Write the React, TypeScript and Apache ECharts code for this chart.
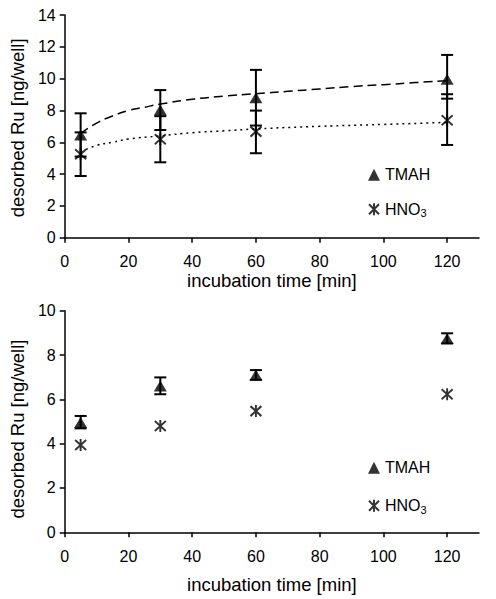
import React, { useEffect, useRef } from "react";
import * as echarts from "echarts";

// ---- Data ----
const times = [5, 30, 60, 120];

// Top panel
const topTMAH = [6.46, 8.03, 8.8, 9.96];
const topTMAHLow = [5.1, 6.77, 7.05, 8.74];
const topTMAHHigh = [7.82, 9.28, 10.55, 11.49];
const topHNO3 = [5.25, 6.19, 6.67, 7.38];
const topHNO3Low = [3.88, 4.74, 5.31, 5.83];
const topHNO3High = [6.62, 7.64, 7.99, 9.02];

// Trend lines
const trendTMAHx = [5, 10, 15, 20, 25, 30, 40, 50, 60, 70, 80, 90, 100, 110, 120];
const trendTMAHy = [6.55, 7.2, 7.65, 8.0, 8.2, 8.4, 8.7, 8.9, 9.05, 9.2, 9.35, 9.5, 9.62, 9.75, 9.87];
const trendHNO3x = [5, 10, 15, 20, 30, 40, 50, 60, 80, 100, 120];
const trendHNO3y = [5.4, 5.8, 6.0, 6.2, 6.4, 6.6, 6.72, 6.84, 7.0, 7.12, 7.25];

// Bottom panel
const botTMAH = [4.96, 6.6, 7.1, 8.75];
const botTMAHLow = [4.69, 6.23, 6.88, 8.52];
const botTMAHHigh = [5.25, 6.99, 7.32, 8.98];
const botHNO3 = [3.94, 4.8, 5.47, 6.23];

const xTicks = [0, 20, 40, 60, 80, 100, 120];
const seriesNames = ["TMAH", "HNO3"];
const xName = "incubation time [min]";
const yName = "desorbed Ru [ng/well]";

const FONT = "'Liberation Sans', Arial, sans-serif";
const ASTERISK = "path://M0,0L10,10M10,0L0,10M5,-1L5,11";

function errorBarSeries(name: string, gi: number, lows: number[], highs: number[]) {
  return {
    name,
    type: "custom",
    xAxisIndex: gi,
    yAxisIndex: gi,
    z: 1,
    encode: { x: 0, y: [1, 2] },
    data: times.map((t, i) => [t, lows[i], highs[i]]),
    renderItem: (params: any, api: any) => {
      const x = api.value(0);
      const lo = api.coord([x, api.value(1)]);
      const hi = api.coord([x, api.value(2)]);
      const hw = 6;
      const style = { stroke: "#000", lineWidth: 2 };
      return {
        type: "group",
        children: [
          { type: "line", shape: { x1: lo[0], y1: lo[1], x2: hi[0], y2: hi[1] }, style },
          { type: "line", shape: { x1: lo[0] - hw, y1: lo[1], x2: lo[0] + hw, y2: lo[1] }, style },
          { type: "line", shape: { x1: hi[0] - hw, y1: hi[1], x2: hi[0] + hw, y2: hi[1] }, style },
        ],
      };
    },
  };
}

export default function App() {
  const ref = useRef<HTMLDivElement>(null);
  useEffect(() => {
    if (!ref.current) return;
    const chart = echarts.init(ref.current, undefined, { renderer: "svg" });
    const axisCommon = {
      axisLine: { lineStyle: { color: "#000", width: 1.5 } },
      axisTick: { lineStyle: { color: "#000", width: 1.5 }, length: 5 },
      splitLine: { show: false },
    };
    const xAxis = (gi: number, gap: number) => ({
      type: "value",
      gridIndex: gi,
      min: 0,
      max: 130,
      interval: 20,
      name: xName,
      nameLocation: "middle",
      nameGap: gap,
      nameTextStyle: { color: "#000", fontSize: 18.5, fontFamily: FONT },
      ...axisCommon,
      axisTick: { ...axisCommon.axisTick, customValues: xTicks },
      axisLabel: { color: "#000", fontSize: 16, fontFamily: FONT, margin: 16, customValues: xTicks },
    });
    const yAxis = (gi: number, max: number, shift: number) => ({
      type: "value",
      gridIndex: gi,
      min: 0,
      max,
      interval: 2,
      name: yName,
      nameLocation: "middle",
      nameGap: 37,
      nameTextStyle: {
        color: "#000",
        fontSize: 18.5,
        fontFamily: FONT,
        padding: [0, shift, 0, 0],
      },
      ...axisCommon,
      axisLabel: { color: "#000", fontSize: 16, fontFamily: FONT, margin: 9 },
    });
    const legend = (top: number, gap: number) => ({
      orient: "vertical",
      left: 366.5,
      top,
      padding: 0,
      itemWidth: 12,
      itemHeight: 12,
      itemGap: gap,
      itemStyle: { borderWidth: 0 },
      data: [
        { name: "TMAH", icon: "triangle", itemStyle: { color: "#000" } },
        {
          name: "HNO3",
          icon: ASTERISK,
          itemStyle: { color: "none", borderColor: "#000", borderWidth: 2 },
        },
      ],
      formatter: (n: string) => (n === "HNO3" ? "HNO{sub|3}" : n),
      textStyle: {
        color: "#000",
        fontSize: 16,
        fontFamily: FONT,
        rich: { sub: { fontSize: 11, fontFamily: FONT, color: "#000", padding: [8, 0, 0, 0] } },
      },
      selectedMode: false,
    });
    const scatter = (name: string, gi: number, vals: number[], tri: boolean) => ({
      name,
      type: "scatter",
      xAxisIndex: gi,
      yAxisIndex: gi,
      z: 3,
      symbol: tri ? "triangle" : ASTERISK,
      symbolSize: tri ? [13, 11] : [11, 12],
      itemStyle: tri
        ? { color: "#000" }
        : { color: "none", borderColor: "#000", borderWidth: 2 },
      data: times.map((t, i) => [t, vals[i]]),
    });
    chart.setOption({
      animation: false,
      grid: [
        { left: 63, top: 15, width: 416, height: 222.7 },
        { left: 63, top: 310.7, width: 416, height: 221.6 },
      ],
      xAxis: [xAxis(0, 31), xAxis(1, 43)],
      yAxis: [yAxis(0, 14, 3), yAxis(1, 10, 15)],
      legend: [legend(166.7, 18), legend(459.7, 21.6)],
      series: [
        {
          name: "TMAH trend",
          type: "line",
          xAxisIndex: 0,
          yAxisIndex: 0,
          smooth: true,
          showSymbol: false,
          z: 2,
          lineStyle: { color: "#000", width: 1.5, type: [9, 5] },
          data: trendTMAHx.map((x, i) => [x, trendTMAHy[i]]),
        },
        {
          name: "HNO3 trend",
          type: "line",
          xAxisIndex: 0,
          yAxisIndex: 0,
          smooth: true,
          showSymbol: false,
          z: 2,
          lineStyle: { color: "#000", width: 1.5, type: [2, 4] },
          data: trendHNO3x.map((x, i) => [x, trendHNO3y[i]]),
        },
        errorBarSeries("TMAH err", 0, topTMAHLow, topTMAHHigh),
        errorBarSeries("HNO3 err", 0, topHNO3Low, topHNO3High),
        scatter(seriesNames[0], 0, topTMAH, true),
        scatter(seriesNames[1], 0, topHNO3, false),
        errorBarSeries("TMAH err 2", 1, botTMAHLow, botTMAHHigh),
        scatter(seriesNames[0], 1, botTMAH, true),
        scatter(seriesNames[1], 1, botHNO3, false),
      ],
    });
    return () => chart.dispose();
  }, []);
  return (
    <div
      ref={ref}
      style={{ position: "fixed", left: 0, top: 0, width: 496, height: 599, background: "#fff" }}
    />
  );
}
